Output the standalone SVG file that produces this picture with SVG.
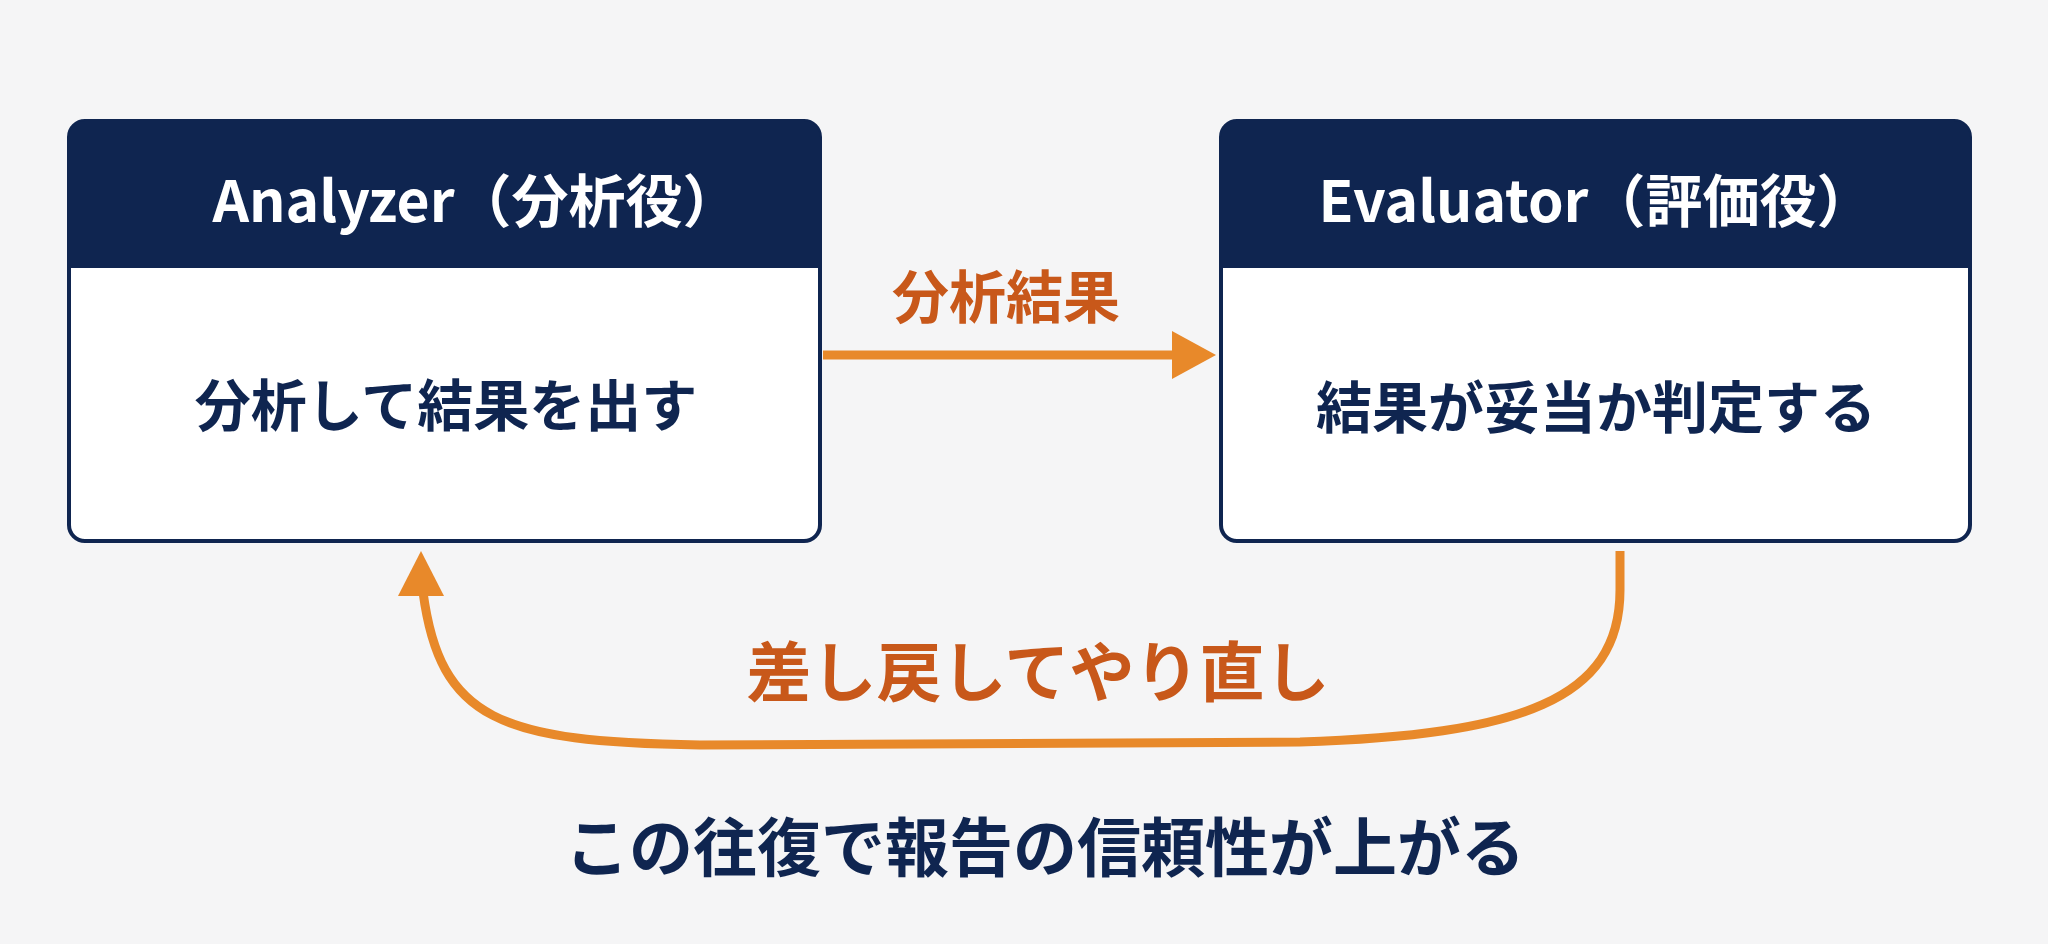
<svg xmlns="http://www.w3.org/2000/svg" width="2048" height="944" viewBox="0 0 2048 944">
<style>
.box{fill:#fff;stroke:#0f2550;stroke-width:4}
.hdr{fill:#0f2550}
.t{font-family:"Noto Sans CJK JP","Noto Sans",sans-serif;font-weight:700;text-anchor:middle}
.ht{fill:#fff;font-size:57px}
.bt{fill:#0f2550;font-size:56px}
.ot{fill:#c8581a}
.ln{fill:none;stroke:#e8892a;stroke-width:9}
</style>
<rect width="2048" height="944" fill="#f5f5f6"/>
<g id="analyzer">
<rect class="box" x="69" y="121" width="751" height="420" rx="16"/>
<path class="hdr" d="M69 268 V137 a16 16 0 0 1 16 -16 H804 a16 16 0 0 1 16 16 V268 Z"/>
<text class="t ht" x="476" y="222">Analyzer（分析役）</text>
<text class="t bt" x="446" y="426">分析して結果を出す</text>
</g>
<g id="evaluator">
<rect class="box" x="1221" y="121" width="749" height="420" rx="16"/>
<path class="hdr" d="M1221 268 V137 a16 16 0 0 1 16 -16 H1954 a16 16 0 0 1 16 16 V268 Z"/>
<text class="t ht" x="1596" y="222">Evaluator（評価役）</text>
<text class="t bt" x="1596" y="428">結果が妥当か判定する</text>
</g>
<g id="connectors">
<line class="ln" x1="823" y1="355" x2="1180" y2="355"/>
<polygon points="1216,355 1172,331 1172,379" fill="#e8892a"/>
<path class="ln" d="M1620 551 L1620 590 C1620 700 1520 735 1300 742 L700 745 C500 742 440 720 423 592"/>
<polygon points="421,551 398,596 444,596" fill="#e8892a"/>
</g>
<text class="t ot" x="1006" y="318" font-size="57">分析結果</text>
<text class="t ot" x="1038" y="696" font-size="65">差し戻してやり直し</text>
<text class="t bt" x="1045" y="871" style="font-size:64px">この往復で報告の信頼性が上がる</text>
</svg>
